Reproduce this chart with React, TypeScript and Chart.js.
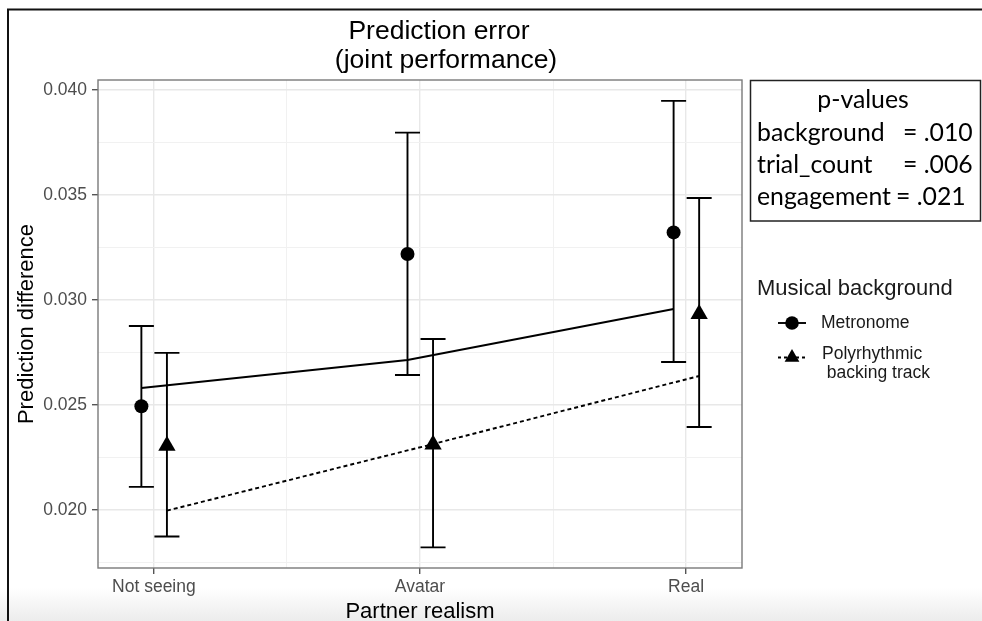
import React, { useEffect, useRef } from 'react';
import { Chart, registerables } from 'chart.js';

Chart.register(...registerables);

// ---------- data ----------
const CATEGORIES = ['Not seeing', 'Avatar', 'Real'];

const METRONOME_MEAN = [0.02494, 0.03219, 0.03322];
const METRONOME_LOW = [0.0211, 0.02643, 0.02705];
const METRONOME_HIGH = [0.02876, 0.03797, 0.03948];
const METRONOME_FIT = [0.02581, 0.02714, 0.02957];

const POLY_MEAN = [0.02306, 0.02312, 0.02933];
const POLY_LOW = [0.01874, 0.01822, 0.02395];
const POLY_HIGH = [0.02748, 0.02814, 0.03486];
const POLY_FIT = [0.01997, 0.02314, 0.02638];

const Y_MAJOR = [0.02, 0.025, 0.03, 0.035, 0.04];
const Y_MINOR = [0.0175, 0.0225, 0.0275, 0.0325, 0.0375];
const X_MAJOR = [1, 2, 3];
const X_MINOR = [1.5, 2.5];

const TITLE_LINES = ['Prediction error', '(joint performance)'];
const X_TITLE = 'Partner realism';
const Y_TITLE = 'Prediction difference';
const LEGEND_TITLE = 'Musical background';
const LEGEND_METRONOME = 'Metronome';
const LEGEND_POLY = ['Polyrhythmic', ' backing track'];
const PVAL_TITLE = 'p-values';
const PVAL_NAMES = ['background', 'trial_count', 'engagement'];
const PVAL_VALUES = ['= .010', '= .006', '= .021'];

// ---------- style ----------
const DODGE_M = -0.047;
const DODGE_P = 0.049;
const CAP = 0.047;
const LW = 1.9;
const SANS = '"Liberation Sans", Arial, Helvetica, sans-serif';
const CALI = 'Lato, "Open Sans", sans-serif';

const isIn = (arr: number[], v: number) => arr.some((a) => Math.abs(a - v) < 1e-9);

function triangle(ctx: CanvasRenderingContext2D, x: number, y: number, r: number) {
  ctx.beginPath();
  ctx.moveTo(x, y - r);
  ctx.lineTo(x + r * Math.sin((2 * Math.PI) / 3), y + r / 2);
  ctx.lineTo(x - r * Math.sin((2 * Math.PI) / 3), y + r / 2);
  ctx.closePath();
  ctx.fill();
}

export default function App() {
  const ref = useRef<HTMLCanvasElement>(null);

  useEffect(() => {
    const canvas = ref.current!;

    const overlay = {
      id: 'overlay',
      beforeDatasetsDraw(chart: any) {
        const { ctx, scales } = chart;
        const x = scales.x;
        const y = scales.y;
        ctx.save();
        ctx.strokeStyle = '#000';
        ctx.lineWidth = LW;
        const series: [number, number[], number[]][] = [
          [DODGE_M, METRONOME_LOW, METRONOME_HIGH],
          [DODGE_P, POLY_LOW, POLY_HIGH],
        ];
        series.forEach(([off, lo, hi]) => {
          lo.forEach((_, i) => {
            const v = i + 1 + off;
            const cx = x.getPixelForValue(v);
            const hw = x.getPixelForValue(v + CAP) - cx;
            const yl = y.getPixelForValue(lo[i]);
            const yh = y.getPixelForValue(hi[i]);
            ctx.beginPath();
            ctx.moveTo(cx, yh);
            ctx.lineTo(cx, yl);
            ctx.moveTo(cx - hw, yh);
            ctx.lineTo(cx + hw, yh);
            ctx.moveTo(cx - hw, yl);
            ctx.lineTo(cx + hw, yl);
            ctx.stroke();
          });
        });
        ctx.restore();
      },
      afterDraw(chart: any) {
        const { ctx, chartArea } = chart;
        ctx.save();
        // panel border
        ctx.strokeStyle = '#7a7a7a';
        ctx.lineWidth = 1.4;
        ctx.strokeRect(chartArea.left, chartArea.top, chartArea.right - chartArea.left, chartArea.bottom - chartArea.top);

        // outer frame (left + top)
        ctx.strokeStyle = '#111';
        ctx.lineWidth = 2;
        ctx.beginPath();
        ctx.moveTo(8, 621);
        ctx.lineTo(8, 9.5);
        ctx.lineTo(982, 9.5);
        ctx.stroke();

        // title
        ctx.fillStyle = '#000';
        ctx.font = `26.5px ${SANS}`;
        ctx.textAlign = 'center';
        ctx.textBaseline = 'alphabetic';
        ctx.fillText(TITLE_LINES[0], 439, 39);
        ctx.fillText(TITLE_LINES[1], 446, 68);

        // legend
        ctx.textAlign = 'left';
        ctx.textBaseline = 'middle';
        ctx.font = `22px ${SANS}`;
        ctx.fillStyle = '#1a1a1a';
        ctx.fillText(LEGEND_TITLE, 757, 289);

        ctx.strokeStyle = '#000';
        ctx.fillStyle = '#000';
        ctx.lineWidth = LW;
        ctx.beginPath();
        ctx.moveTo(778, 323);
        ctx.lineTo(806, 323);
        ctx.stroke();
        ctx.beginPath();
        ctx.arc(792, 323, 6.8, 0, Math.PI * 2);
        ctx.fill();

        ctx.setLineDash([3, 3]);
        ctx.beginPath();
        ctx.moveTo(778, 357.5);
        ctx.lineTo(806, 357.5);
        ctx.stroke();
        ctx.setLineDash([]);
        triangle(ctx, 792, 357.5, 8.5);

        ctx.fillStyle = '#1a1a1a';
        ctx.font = `17.5px ${SANS}`;
        ctx.fillText(LEGEND_METRONOME, 821, 323);
        ctx.fillText(LEGEND_POLY[0], 822, 354);
        ctx.fillText(LEGEND_POLY[1], 822, 373);

        // p-values box
        ctx.strokeStyle = '#222';
        ctx.lineWidth = 1.5;
        ctx.strokeRect(750.5, 80.5, 230, 140.5);
        ctx.fillStyle = '#000';
        ctx.font = `24.8px ${CALI}`;
        ctx.textAlign = 'center';
        ctx.fillText(PVAL_TITLE, 863, 100);
        ctx.textAlign = 'left';
        const rowsY = [133, 165, 197];
        const valX = [903, 903, 896];
        PVAL_NAMES.forEach((n, i) => {
          ctx.fillText(n, 757, rowsY[i]);
          ctx.fillText(PVAL_VALUES[i], valX[i], rowsY[i]);
        });
        ctx.restore();
      },
    };

    const majorY = (ctx: any) => ctx.tick && isIn(Y_MAJOR, ctx.tick.value);
    const majorX = (ctx: any) => ctx.tick && isIn(X_MAJOR, ctx.tick.value);

    const chart = new Chart(canvas, {
      type: 'scatter',
      data: {
        datasets: [
          {
            label: 'Metronome fit',
            data: METRONOME_FIT.map((v, i) => ({ x: i + 1 + DODGE_M, y: v })),
            showLine: true,
            borderColor: '#000',
            borderWidth: LW,
            pointRadius: 0,
            fill: false,
          } as any,
          {
            label: 'Polyrhythmic fit',
            data: POLY_FIT.map((v, i) => ({ x: i + 1 + DODGE_P, y: v })),
            showLine: true,
            borderColor: '#000',
            borderWidth: LW,
            borderDash: [4, 3],
            pointRadius: 0,
            fill: false,
          } as any,
          {
            label: 'Metronome',
            data: METRONOME_MEAN.map((v, i) => ({ x: i + 1 + DODGE_M, y: v })),
            pointStyle: 'circle',
            pointRadius: 7,
            backgroundColor: '#000',
            borderColor: '#000',
            borderWidth: 0,
          },
          {
            label: 'Polyrhythmic backing track',
            data: POLY_MEAN.map((v, i) => ({ x: i + 1 + DODGE_P, y: v })),
            pointStyle: 'triangle',
            pointRadius: 10,
            backgroundColor: '#000',
            borderColor: '#000',
            borderWidth: 0,
          },
        ],
      },
      options: {
        animation: false,
        responsive: false,
        events: [],
        layout: { padding: { left: 8, top: 80, right: 240, bottom: 0 } },
        plugins: {
          legend: { display: false },
          title: { display: false },
          tooltip: { enabled: false },
        },
        scales: {
          x: {
            type: 'linear',
            min: 0.79,
            max: 3.21,
            afterBuildTicks: (s: any) => {
              s.ticks = [...X_MAJOR, ...X_MINOR].sort((a, b) => a - b).map((v) => ({ value: v }));
            },
            afterFit: (s: any) => {
              s.height = 53;
            },
            ticks: {
              autoSkip: false,
              maxRotation: 0,
              padding: 3,
              color: '#4d4d4d',
              font: { family: SANS, size: 17.5 },
              callback: (v: any) => (isIn(X_MAJOR, Number(v)) ? CATEGORIES[Math.round(Number(v)) - 1] : ''),
            },
            grid: {
              color: (c: any) => (majorX(c) ? '#e8e8e8' : '#f1f1f1'),
              lineWidth: (c: any) => (majorX(c) ? 1.4 : 1),
              tickColor: (c: any) => (majorX(c) ? '#555' : 'rgba(0,0,0,0)'),
              tickWidth: 1.4,
              tickLength: 6,
            },
            border: { display: false },
            title: {
              display: true,
              text: X_TITLE,
              color: '#000',
              font: { family: SANS, size: 22, lineHeight: 0.82 },
              padding: { top: 0, bottom: 0 },
            },
          },
          y: {
            type: 'linear',
            min: 0.017238,
            max: 0.040476,
            afterBuildTicks: (s: any) => {
              s.ticks = [...Y_MAJOR, ...Y_MINOR].sort((a, b) => a - b).map((v) => ({ value: v }));
            },
            afterFit: (s: any) => {
              s.width = 90;
            },
            ticks: {
              autoSkip: false,
              padding: 5,
              color: '#4d4d4d',
              font: { family: SANS, size: 17.5 },
              callback: (v: any) => (isIn(Y_MAJOR, Number(v)) ? Number(v).toFixed(3) : ''),
            },
            grid: {
              color: (c: any) => (majorY(c) ? '#e8e8e8' : '#f1f1f1'),
              lineWidth: (c: any) => (majorY(c) ? 1.4 : 1),
              tickColor: (c: any) => (majorY(c) ? '#555' : 'rgba(0,0,0,0)'),
              tickWidth: 1.4,
              tickLength: 6,
            },
            border: { display: false },
            title: {
              display: true,
              text: Y_TITLE,
              color: '#000',
              font: { family: SANS, size: 22, lineHeight: 1 },
              padding: { top: 8, bottom: 0 },
            },
          },
        },
      } as any,
      plugins: [overlay],
    });

    return () => chart.destroy();
  }, []);

  return (
    <div
      style={{
        position: 'fixed',
        left: 0,
        top: 0,
        width: 982,
        height: 621,
        background: 'linear-gradient(to bottom, #ffffff 0px, #ffffff 588px, #ececec 621px)',
      }}
    >
      <canvas ref={ref} width={982} height={621} style={{ display: 'block', width: 982, height: 621 }} />
    </div>
  );
}
